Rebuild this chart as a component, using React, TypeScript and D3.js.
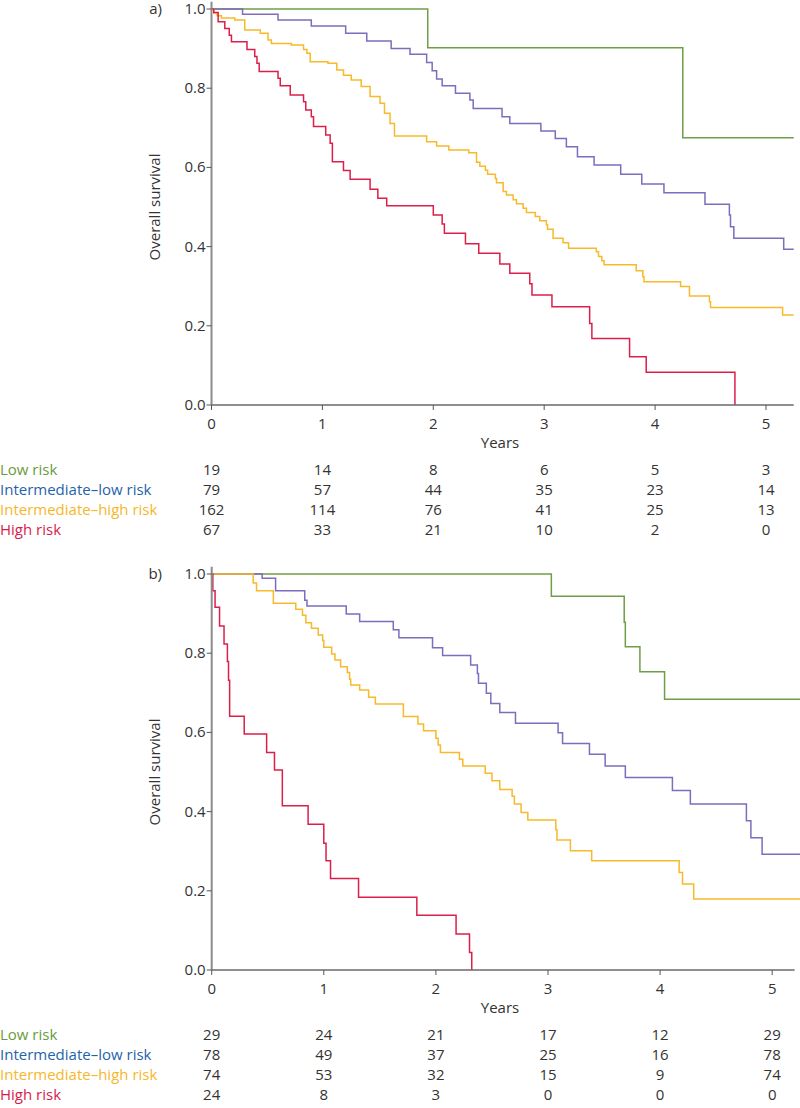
import React from "react";
import * as d3 from "d3";

type Pt = [number, number];

const years = [0, 1, 2, 3, 4, 5];
const yTicks = [0, 0.2, 0.4, 0.6, 0.8, 1.0];
const groups = ["Low risk", "Intermediate–low risk", "Intermediate–high risk", "High risk"];
const labelColors = ["#6b9a3c", "#1f63a8", "#f6b72a", "#d81b4a"];
const lineColors = ["#6f9e46", "#7e6cbd", "#f8b92a", "#dc1f4a"];

// Panel a) Kaplan-Meier steps [years, survival]
const aLow: Pt[] = [[1.95, 0.902], [4.25, 0.675]];
const aIntLow: Pt[] = [
  [0.28, 0.987], [0.6, 0.972], [0.9, 0.957], [1.21, 0.939], [1.4, 0.919], [1.62, 0.9],
  [1.79, 0.886], [1.94, 0.865], [1.99, 0.844], [2.03, 0.823], [2.08, 0.806], [2.2, 0.787],
  [2.33, 0.77], [2.36, 0.749], [2.62, 0.728], [2.69, 0.711], [2.97, 0.692], [3.1, 0.673],
  [3.2, 0.652], [3.3, 0.627], [3.45, 0.606], [3.69, 0.583], [3.88, 0.558], [4.08, 0.536],
  [4.45, 0.507], [4.67, 0.48], [4.68, 0.45], [4.71, 0.421], [5.16, 0.393],
];
const aIntHigh: Pt[] = [
  [0.02, 0.99], [0.05, 0.983], [0.09, 0.977], [0.21, 0.972], [0.3, 0.947], [0.44, 0.939],
  [0.51, 0.922], [0.54, 0.913], [0.72, 0.909], [0.83, 0.898], [0.86, 0.888], [0.89, 0.867],
  [1.05, 0.863], [1.13, 0.846], [1.19, 0.833], [1.26, 0.821], [1.35, 0.804], [1.43, 0.779],
  [1.52, 0.762], [1.56, 0.737], [1.61, 0.711], [1.65, 0.679], [1.94, 0.665], [2.03, 0.654],
  [2.14, 0.644], [2.32, 0.637], [2.39, 0.613], [2.42, 0.603], [2.47, 0.593], [2.49, 0.583],
  [2.56, 0.572], [2.57, 0.561], [2.63, 0.539], [2.66, 0.53], [2.72, 0.518], [2.75, 0.508],
  [2.81, 0.497], [2.84, 0.486], [2.92, 0.476], [2.96, 0.465], [3.02, 0.455], [3.03, 0.444],
  [3.08, 0.421], [3.17, 0.41], [3.22, 0.396], [3.47, 0.387], [3.49, 0.375], [3.52, 0.364],
  [3.54, 0.354], [3.83, 0.339], [3.89, 0.324], [3.9, 0.311], [4.23, 0.299], [4.31, 0.275],
  [4.49, 0.261], [4.5, 0.246], [5.15, 0.227],
];
const aHigh: Pt[] = [
  [0.02, 0.991], [0.06, 0.968], [0.12, 0.951], [0.16, 0.934], [0.18, 0.917], [0.32, 0.898],
  [0.39, 0.88], [0.41, 0.863], [0.43, 0.842], [0.6, 0.825], [0.62, 0.806], [0.71, 0.783],
  [0.83, 0.766], [0.85, 0.745], [0.9, 0.728], [0.92, 0.703], [1.03, 0.682], [1.07, 0.661],
  [1.09, 0.614], [1.19, 0.592], [1.25, 0.57], [1.43, 0.545], [1.5, 0.522], [1.58, 0.503],
  [2.0, 0.48], [2.08, 0.457], [2.1, 0.434], [2.29, 0.407], [2.41, 0.383], [2.6, 0.356],
  [2.69, 0.333], [2.87, 0.306], [2.89, 0.278], [3.07, 0.248], [3.41, 0.206], [3.43, 0.168],
  [3.77, 0.122], [3.92, 0.083], [4.72, 0.0],
];

// Panel b)
const bLow: Pt[] = [[3.03, 0.944], [3.68, 0.878], [3.69, 0.816], [3.82, 0.753], [4.04, 0.684]];
const bIntLow: Pt[] = [
  [0.45, 0.989], [0.57, 0.958], [0.83, 0.934], [0.85, 0.919], [1.2, 0.899], [1.32, 0.88],
  [1.62, 0.859], [1.67, 0.839], [1.97, 0.814], [2.06, 0.794], [2.31, 0.77], [2.37, 0.749],
  [2.38, 0.724], [2.45, 0.699], [2.49, 0.673], [2.57, 0.65], [2.71, 0.623], [3.09, 0.599],
  [3.13, 0.572], [3.37, 0.545], [3.51, 0.515], [3.69, 0.486], [4.11, 0.453], [4.27, 0.419],
  [4.77, 0.377], [4.81, 0.334], [4.91, 0.292],
];
const bIntHigh: Pt[] = [
  [0.37, 0.977], [0.4, 0.958], [0.55, 0.926], [0.75, 0.911], [0.81, 0.896], [0.84, 0.877],
  [0.89, 0.863], [0.95, 0.846], [0.99, 0.832], [1.0, 0.815], [1.07, 0.798], [1.1, 0.783],
  [1.15, 0.766], [1.21, 0.751], [1.23, 0.734], [1.24, 0.72], [1.32, 0.707], [1.4, 0.689],
  [1.46, 0.672], [1.71, 0.64], [1.84, 0.621], [1.89, 0.604], [2.0, 0.585], [2.02, 0.568],
  [2.04, 0.549], [2.21, 0.532], [2.24, 0.515], [2.44, 0.497], [2.5, 0.478], [2.57, 0.456],
  [2.68, 0.439], [2.7, 0.419], [2.76, 0.398], [2.82, 0.379], [3.07, 0.354], [3.08, 0.328],
  [3.2, 0.301], [3.39, 0.276], [4.17, 0.246], [4.2, 0.217], [4.3, 0.179],
];
const bHigh: Pt[] = [
  [0.01, 0.958], [0.03, 0.916], [0.07, 0.869], [0.11, 0.823], [0.14, 0.779], [0.15, 0.732],
  [0.16, 0.641], [0.29, 0.596], [0.49, 0.549], [0.56, 0.505], [0.63, 0.415], [0.86, 0.368],
  [1.0, 0.32], [1.02, 0.276], [1.06, 0.231], [1.31, 0.184], [1.83, 0.138], [2.18, 0.091],
  [2.3, 0.044], [2.32, 0.0],
];

const aAtRisk = [
  [19, 14, 8, 6, 5, 3],
  [79, 57, 44, 35, 23, 14],
  [162, 114, 76, 41, 25, 13],
  [67, 33, 21, 10, 2, 0],
];
const bAtRisk = [
  [29, 24, 21, 17, 12, 29],
  [78, 49, 37, 25, 16, 78],
  [74, 53, 32, 15, 9, 74],
  [24, 8, 3, 0, 0, 0],
];

const followUpEnd = 5.25;
const FONT = "'Open Sans', 'Noto Sans', sans-serif";
const FS = 15;

interface PanelProps {
  label: string;
  curves: Pt[][];
  atRisk: number[][];
  xLeft: number;
  xMax: number;
  xRight: number;
  yTop: number;
  yBottom: number;
}

function Panel({ label, curves, atRisk, xLeft, xMax, xRight, yTop, yBottom }: PanelProps) {
  const x = d3.scaleLinear().domain([0, xMax]).range([xLeft, xRight]);
  const y = d3.scaleLinear().domain([0, 1]).range([yBottom, yTop]);
  const line = d3
    .line<Pt>()
    .x((d) => x(d[0]))
    .y((d) => y(d[1]))
    .curve(d3.curveStepAfter);

  const paths = curves.map((c) => {
    const pts: Pt[] = [[0, 1], ...c];
    const last = c[c.length - 1];
    if (last[1] > 0) pts.push([followUpEnd, last[1]]);
    return line(pts) || "";
  });

  return (
    <g>
      {paths.map((p, i) => (
        <path key={i} d={p} fill="none" stroke={lineColors[i]} strokeWidth={1.5} />
      ))}
      <line x1={xLeft} x2={xLeft} y1={y(1.018)} y2={yBottom} stroke="#8c8c8c" strokeWidth={2} />
      {yTicks.map((t) => (
        <g key={t}>
          <line x1={xLeft - 5} x2={xLeft} y1={y(t)} y2={y(t)} stroke="#555" strokeWidth={1} />
          <text x={xLeft - 6} y={y(t) + 5} textAnchor="end" fontSize={FS} fill="#333" fontFamily={FONT}>
            {t.toFixed(1)}
          </text>
        </g>
      ))}
      <line x1={xLeft} x2={xRight} y1={yBottom} y2={yBottom} stroke="#6a6a6a" strokeWidth={1.5} />
      {years.map((t) => (
        <g key={t}>
          <line x1={x(t)} x2={x(t)} y1={yBottom} y2={yBottom + 5} stroke="#555" strokeWidth={1} />
          <text x={x(t)} y={yBottom + 24} textAnchor="middle" fontSize={FS} fill="#333" fontFamily={FONT}>
            {t}
          </text>
        </g>
      ))}
      <text x={500} y={yBottom + 43} textAnchor="middle" fontSize={FS} fill="#333" fontFamily={FONT}>
        Years
      </text>
      <text
        transform={`translate(160,${(yTop + yBottom) / 2}) rotate(-90)`}
        textAnchor="middle"
        fontSize={FS}
        fill="#333"
        fontFamily={FONT}
      >
        Overall survival
      </text>
      <text x={162} y={yTop + 5} textAnchor="end" fontSize={FS} fill="#333" fontFamily={FONT}>
        {label}
      </text>
      {groups.map((g, i) => (
        <g key={g}>
          <text x={0} y={yBottom + 70 + i * 20} fontSize={FS} fill={labelColors[i]} fontFamily={FONT}>
            {g}
          </text>
          {atRisk[i].map((v, j) => (
            <text
              key={j}
              x={x(years[j])}
              y={yBottom + 70 + i * 20}
              textAnchor="middle"
              fontSize={FS}
              fill="#333"
              fontFamily={FONT}
            >
              {v}
            </text>
          ))}
        </g>
      ))}
    </g>
  );
}

export default function App() {
  return (
    <svg
      width={800}
      height={1108}
      style={{ position: "absolute", left: 0, top: 0, background: "#fff" }}
    >
      <rect width={800} height={1108} fill="#fff" />
      <Panel
        label="a)"
        curves={[aLow, aIntLow, aIntHigh, aHigh]}
        atRisk={aAtRisk}
        xLeft={211.5}
        xMax={5.25}
        xRight={793.7}
        yTop={9}
        yBottom={405}
      />
      <Panel
        label="b)"
        curves={[bLow, bIntLow, bIntHigh, bHigh]}
        atRisk={bAtRisk}
        xLeft={211.7}
        xMax={5.2}
        xRight={794.6}
        yTop={574}
        yBottom={970}
      />
    </svg>
  );
}
